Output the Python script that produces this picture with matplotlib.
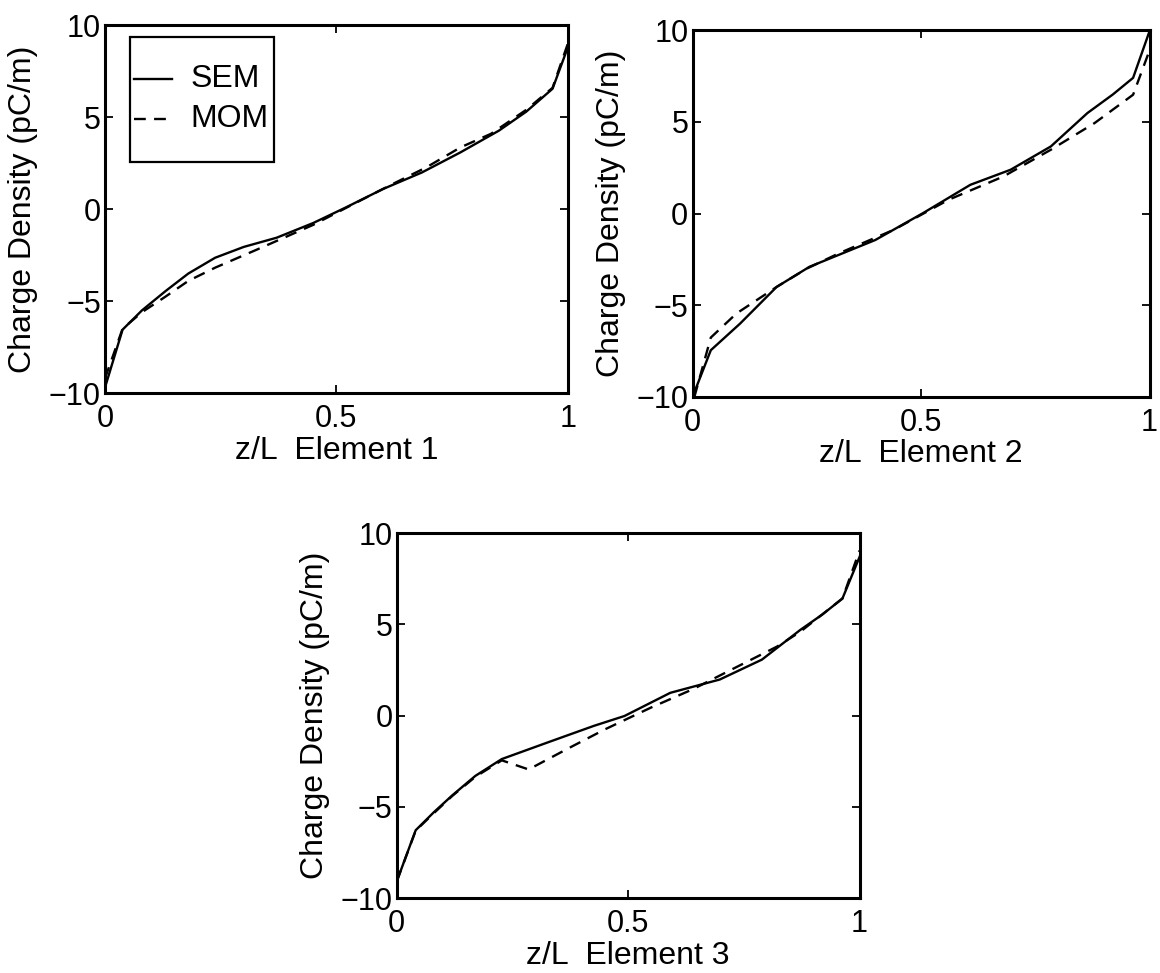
import numpy as np
import matplotlib.pyplot as plt
from matplotlib.patches import Rectangle

plt.rcParams['font.family'] = ['Liberation Sans', 'DejaVu Sans']

# Charge density along each element, SEM and MOM solutions
z_sem1 = [0.0, 0.038, 0.08, 0.131, 0.18, 0.238, 0.30, 0.371, 0.45, 0.52, 0.60, 0.685, 0.768, 0.851, 0.91, 0.967, 1.0]
q_sem1 = [-9.7, -6.55, -5.5, -4.45, -3.5, -2.64, -2.05, -1.55, -0.75, 0.09, 1.09, 2.0, 3.09, 4.27, 5.3, 6.55, 8.8]
z_mom1 = [0.0, 0.038, 0.08, 0.131, 0.18, 0.238, 0.338, 0.45, 0.55, 0.62, 0.694, 0.768, 0.834, 0.91, 0.967, 1.0]
q_mom1 = [-9.2, -6.5, -5.6, -4.75, -3.9, -3.18, -2.09, -0.85, 0.45, 1.35, 2.27, 3.36, 4.1, 5.4, 6.6, 9.0]

z_sem2 = [0.0, 0.04, 0.104, 0.184, 0.256, 0.33, 0.40, 0.504, 0.608, 0.696, 0.784, 0.864, 0.92, 0.964, 1.0]
q_sem2 = [-10.0, -7.45, -6.0, -4.0, -2.9, -2.15, -1.44, 0.02, 1.57, 2.39, 3.66, 5.48, 6.5, 7.4, 9.95]
z_mom2 = [0.004, 0.04, 0.096, 0.184, 0.25, 0.32, 0.44, 0.56, 0.68, 0.784, 0.88, 0.964, 1.0]
q_mom2 = [-10.0, -6.76, -5.45, -4.0, -3.0, -2.17, -0.89, 0.75, 2.02, 3.48, 4.94, 6.48, 8.9]

z_sem3 = [0.0, 0.041, 0.08, 0.12, 0.17, 0.227, 0.326, 0.426, 0.492, 0.591, 0.698, 0.789, 0.872, 0.92, 0.963, 1.0]
q_sem3 = [-9.09, -6.28, -5.3, -4.37, -3.3, -2.38, -1.47, -0.56, -0.02, 1.25, 1.98, 3.07, 4.7, 5.55, 6.42, 8.7]
z_mom3 = [0.0, 0.041, 0.08, 0.12, 0.17, 0.227, 0.285, 0.368, 0.45, 0.55, 0.64, 0.723, 0.822, 0.872, 0.963, 1.0]
q_mom3 = [-9.09, -6.3, -5.35, -4.4, -3.35, -2.45, -2.95, -1.83, -0.75, 0.45, 1.45, 2.52, 3.79, 4.6, 6.42, 9.05]

xlabels = ["z/L  Element 1", "z/L  Element 2", "z/L  Element 3"]
series_names = ["SEM", "MOM"]

elements = [
    (z_sem1, q_sem1, z_mom1, q_mom1),
    (z_sem2, q_sem2, z_mom2, q_mom2),
    (z_sem3, q_sem3, z_mom3, q_mom3),
]

# axes boxes in figure fractions [left, bottom, width, height]
boxes = [
    [0.0905, 0.596, 0.399, 0.378],
    [0.597, 0.592, 0.394, 0.377],
    [0.342, 0.077, 0.399, 0.375],
]

LW = 1.7
DASH = (0, (5, 3.5))
FS = 22

fig = plt.figure(figsize=(11.6, 9.73), dpi=100)

for i, (zs, qs, zm, qm) in enumerate(elements):
    ax = fig.add_axes(boxes[i])
    ax.plot(zs, qs, color='black', linewidth=LW)
    ax.plot(zm, qm, color='black', linewidth=LW, linestyle=DASH)
    ax.set_xlim(0, 1)
    ax.set_ylim(-10, 10)
    ax.set_xticks([0, 0.5, 1])
    ax.set_xticklabels(['0', '0.5', '1'])
    ax.set_yticks([-10, -5, 0, 5, 10])
    ax.set_yticklabels(['\u221210', '\u22125', '0', '5', '10'])
    ax.tick_params(direction='in', top=True, right=True, length=6, width=1.3,
                   labelsize=FS)
    ax.tick_params(axis='y', pad=3)
    ax.tick_params(axis='x', pad=8)
    for s in ax.spines.values():
        s.set_linewidth(2.2)
    ax.set_xlabel(xlabels[i], fontsize=FS + 1, labelpad=1)
    ax.set_ylabel('Charge Density (pC/m)', fontsize=FS + 1)
    ax.yaxis.set_label_coords(-0.145, 0.5)

    if i == 0:
        # boxed key in the upper left corner
        ax.add_patch(Rectangle((0.054, 0.628), 0.311, 0.339, transform=ax.transAxes,
                               facecolor='white', edgecolor='black', linewidth=1.6,
                               zorder=3))
        ax.plot([0.063, 0.145], [0.853, 0.853], transform=ax.transAxes,
                color='black', linewidth=LW, zorder=4)
        ax.plot([0.063, 0.145], [0.745, 0.745], transform=ax.transAxes,
                color='black', linewidth=LW, linestyle=DASH, zorder=4)
        ax.text(0.184, 0.853, series_names[0], transform=ax.transAxes,
                fontsize=FS + 1, va='center', ha='left', zorder=4)
        ax.text(0.184, 0.745, series_names[1], transform=ax.transAxes,
                fontsize=FS + 1, va='center', ha='left', zorder=4)

fig.savefig('out.png', dpi=100)
